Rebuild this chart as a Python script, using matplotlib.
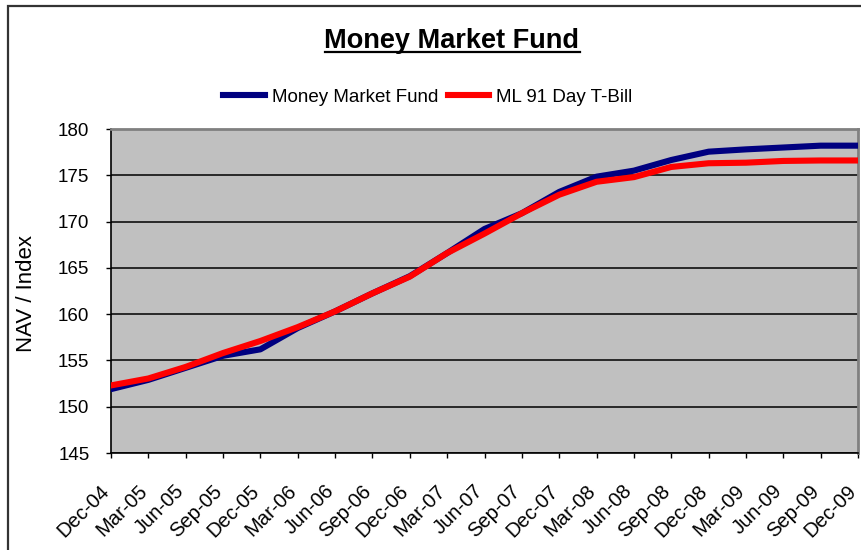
import matplotlib
matplotlib.use("Agg")
from matplotlib import pyplot as plt
from matplotlib.lines import Line2D
from matplotlib.patches import Rectangle
from matplotlib.transforms import ScaledTranslation

# quarter-end labels and NAV values
quarters = ["Dec-04", "Mar-05", "Jun-05", "Sep-05", "Dec-05", "Mar-06", "Jun-06",
            "Sep-06", "Dec-06", "Mar-07", "Jun-07", "Sep-07", "Dec-07", "Mar-08",
            "Jun-08", "Sep-08", "Dec-08", "Mar-09", "Jun-09", "Sep-09", "Dec-09"]
money_market = [151.9, 152.9, 154.2, 155.5, 156.2, 158.5, 160.3, 162.25, 164.1, 166.6,
                169.2, 170.9, 173.2, 174.85, 175.5, 176.65, 177.55, 177.8, 178.0, 178.2, 178.2]
tbill = [152.3, 153.05, 154.3, 155.8, 157.1, 158.6, 160.3, 162.25, 164.05, 166.6,
         168.7, 170.9, 172.9, 174.3, 174.8, 175.9, 176.3, 176.36, 176.55, 176.6, 176.6]
y_ticks = [145, 150, 155, 160, 165, 170, 175, 180]

plt.rcParams['font.family'] = ['Liberation Sans', 'DejaVu Sans']

fig = plt.figure(figsize=(8.61, 5.5), dpi=100)
fig.patch.set_facecolor("white")

# outer chart border (runs off the right/bottom edges like the reference)
fig.patches.append(Rectangle((8 / 861, -0.05), 1.1, 1 - 6 / 550 + 0.05,
                             transform=fig.transFigure, fill=False,
                             edgecolor="#333333", linewidth=1.6))

ax = fig.add_axes([111 / 861, 1 - 453 / 550, 747 / 861, 324 / 550])
ax.set_facecolor("#C0C0C0")

x = range(len(quarters))
ax.plot(x, money_market, color="#000080", linewidth=4.4, label="Money Market Fund",
        solid_joinstyle="round", zorder=3)
ax.plot(x, tbill, color="#FF0000", linewidth=4.4, label="ML 91 Day T-Bill",
        solid_joinstyle="round", zorder=4)

ax.set_xlim(0, len(quarters) - 1)
ax.set_ylim(145, 180)
ax.set_yticks(y_ticks)
ax.set_yticklabels([str(v) for v in y_ticks], fontsize=13.5)
ax.set_xticks(list(x))
ax.set_xticklabels(quarters, fontsize=14.5, rotation=45, ha="right",
                   rotation_mode="anchor")
ax.tick_params(axis="both", direction="out", length=3.5, width=1, color="black")
ax.tick_params(axis="y", pad=12)
ax.tick_params(axis="x", pad=17)
shift = ScaledTranslation(-11 / 100, 0, fig.dpi_scale_trans)
for lbl in ax.get_xticklabels():
    lbl.set_transform(lbl.get_transform() + shift)

ax.yaxis.grid(True, color="black", linewidth=1.1)
ax.set_axisbelow(True)
for side in ["top", "right"]:
    ax.spines[side].set_color("#808080")
    ax.spines[side].set_linewidth(2)
for side in ["left", "bottom"]:
    ax.spines[side].set_color("black")
    ax.spines[side].set_linewidth(1.2)

fig.text(27 / 861, 1 - 293 / 550, "NAV / Index", rotation=90, fontsize=16,
         ha="center", va="center")

title = fig.text(452 / 861, 1 - 41 / 550, "Money Market Fund", fontsize=19.5,
                 fontweight="bold", ha="center", va="center")

fig.legend(loc="center", bbox_to_anchor=(428 / 861, 1 - 97 / 550), ncol=2,
           frameon=False, fontsize=13.5, handlelength=2.2, handletextpad=0.4,
           columnspacing=0.5)

# underline the title
fig.canvas.draw()
bb = title.get_window_extent().transformed(fig.transFigure.inverted())
fig.lines.append(Line2D([bb.x0, bb.x1], [bb.y0 + 0.004, bb.y0 + 0.004],
                        transform=fig.transFigure, color="black", linewidth=1.6))

fig.savefig("out.png", dpi=100)
